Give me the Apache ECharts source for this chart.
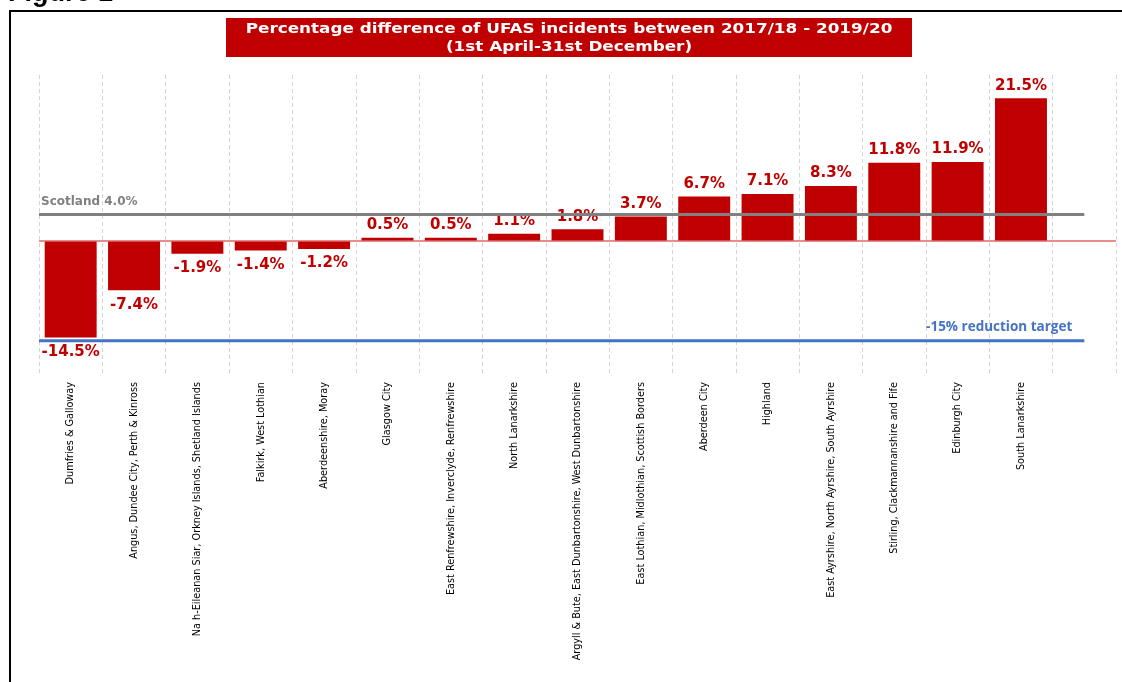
<!DOCTYPE html>
<html>
<head>
<meta charset="utf-8">
<script src="https://cdn.jsdelivr.net/npm/echarts@6/dist/echarts.min.js"></script>
<style>
  html, body { margin: 0; padding: 0; background: #fff; overflow: hidden; }
  #chart { width: 1122px; height: 682px; }
</style>
</head>
<body>
<div id="chart"></div>
<script>
// Fire and rescue areas, ordered by percentage change in UFAS incidents
const areas = [
  'Dumfries & Galloway',
  'Angus, Dundee City, Perth & Kinross',
  'Na h-Eileanan Siar, Orkney Islands, Shetland Islands',
  'Falkirk, West Lothian',
  'Aberdeenshire, Moray',
  'Glasgow City',
  'East Renfrewshire, Inverclyde, Renfrewshire',
  'North Lanarkshire',
  'Argyll & Bute, East Dunbartonshire, West Dunbartonshire',
  'East Lothian, Midlothian, Scottish Borders',
  'Aberdeen City',
  'Highland',
  'East Ayrshire, North Ayrshire, South Ayrshire',
  'Stirling, Clackmannanshire and Fife',
  'Edinburgh City',
  'South Lanarkshire'
];

// Percentage difference 2017/18 - 2019/20 (1st April - 31st December)
const pctChange = [-14.5, -7.4, -1.9, -1.4, -1.2, 0.5, 0.5, 1.1, 1.8, 3.7, 6.7, 7.1, 8.3, 11.8, 11.9, 21.5];

// Reference levels
const scotlandAvg = 4.0;
const reductionTarget = -15;

const chartTitle = [
  'Percentage difference of UFAS incidents between 2017/18 - 2019/20',
  '(1st April-31st December)'
];

const RED = '#c00000';
const categories = areas.concat(['']); // spare slot on the right

const chart = echarts.init(document.getElementById('chart'), null, { renderer: 'canvas' });

const barData = pctChange.map(v => ({
  value: v,
  label: { position: v < 0 ? 'bottom' : 'top', distance: v < 0 ? 7 : 5 }
}));

const pctText = v => v.toFixed(1) + '%';

chart.setOption({
  animation: false,
  backgroundColor: '#ffffff',
  graphic: [
    {
      // page frame
      type: 'rect',
      silent: true,
      shape: { x: 10, y: 11, width: 1300, height: 900 },
      style: { fill: 'none', stroke: '#000', lineWidth: 2 }
    },
    {
      type: 'text',
      silent: true,
      x: 8,
      y: -20,
      style: {
        text: 'Figure 1',
        fill: '#000',
        font: 'bold 27px "Liberation Sans", Arial, sans-serif'
      }
    },
    {
      // title banner
      type: 'group',
      silent: true,
      children: [
        {
          type: 'rect',
          shape: { x: 226, y: 18, width: 686, height: 39 },
          style: { fill: RED }
        },
        {
          type: 'text',
          x: 569,
          y: 38,
          scaleX: 1.16,
          style: {
            text: chartTitle.join('\n'),
            fill: '#ffffff',
            align: 'center',
            verticalAlign: 'middle',
            font: 'bold 14.5px "DejaVu Sans", sans-serif',
            lineHeight: 18
          }
        }
      ]
    }
  ],
  grid: {
    left: 39, right: 6, top: 75, bottom: 308,
    containLabel: false,
    outerBoundsMode: 'none'
  },
  xAxis: [
    {
      type: 'category',
      data: categories,
      boundaryGap: true,
      axisLine: { show: false },
      axisTick: { show: false },
      splitLine: {
        show: true,
        interval: 0,
        lineStyle: { color: '#d4d4d4', type: [4, 3], width: 1 }
      },
      axisLabel: {
        interval: 0,
        rotate: 90,
        margin: 8,
        color: '#000',
        fontSize: 10.8,
        fontFamily: '"Liberation Sans Narrow", "DejaVu Sans Condensed", "Roboto Condensed", sans-serif'
      }
    },
    {
      type: 'value',
      show: false,
      min: 0,
      max: categories.length
    }
  ],
  yAxis: {
    type: 'value',
    min: -20,
    max: 25,
    show: false,
    splitLine: { show: false }
  },
  series: [
    {
      type: 'bar',
      data: barData,
      barCategoryGap: '18%',
      itemStyle: { color: RED },
      label: {
        show: true,
        color: RED,
        fontFamily: 'DejaVu Sans',
        fontWeight: 'bold',
        fontSize: 15,
        formatter: p => pctText(p.value)
      },
      markLine: {
        silent: true,
        symbol: 'none',
        label: { show: false },
        lineStyle: { color: '#e06666', width: 1.5, type: 'solid' },
        data: [{ yAxis: 0 }]
      },
      z: 3
    },
    {
      // Scotland-wide change
      type: 'line',
      xAxisIndex: 1,
      symbol: 'circle',
      symbolSize: 0,
      showSymbol: true,
      lineStyle: { color: '#808080', width: 3 },
      z: 4,
      data: [
        {
          value: [0, scotlandAvg],
          label: {
            show: true,
            position: 'top',
            align: 'left',
            distance: 7,
            offset: [2, 0],
            formatter: 'Scotland ' + pctText(scotlandAvg),
            color: '#808080',
            fontFamily: 'DejaVu Sans',
            fontWeight: 'bold',
            fontSize: 12
          }
        },
        [16.5, scotlandAvg]
      ]
    },
    {
      // Reduction target
      type: 'line',
      xAxisIndex: 1,
      symbol: 'circle',
      symbolSize: 0,
      showSymbol: true,
      lineStyle: { color: '#4472c4', width: 3 },
      z: 4,
      data: [
        [0, reductionTarget],
        {
          value: [16.5, reductionTarget],
          label: {
            show: true,
            position: 'top',
            align: 'right',
            distance: 7,
            offset: [-12, 0],
            formatter: reductionTarget + '% reduction target',
            color: '#4472c4',
            fontFamily: '"Open Sans", sans-serif',
            fontWeight: 'bold',
            fontSize: 13.5
          }
        }
      ]
    }
  ]
});
</script>
</body>
</html>
